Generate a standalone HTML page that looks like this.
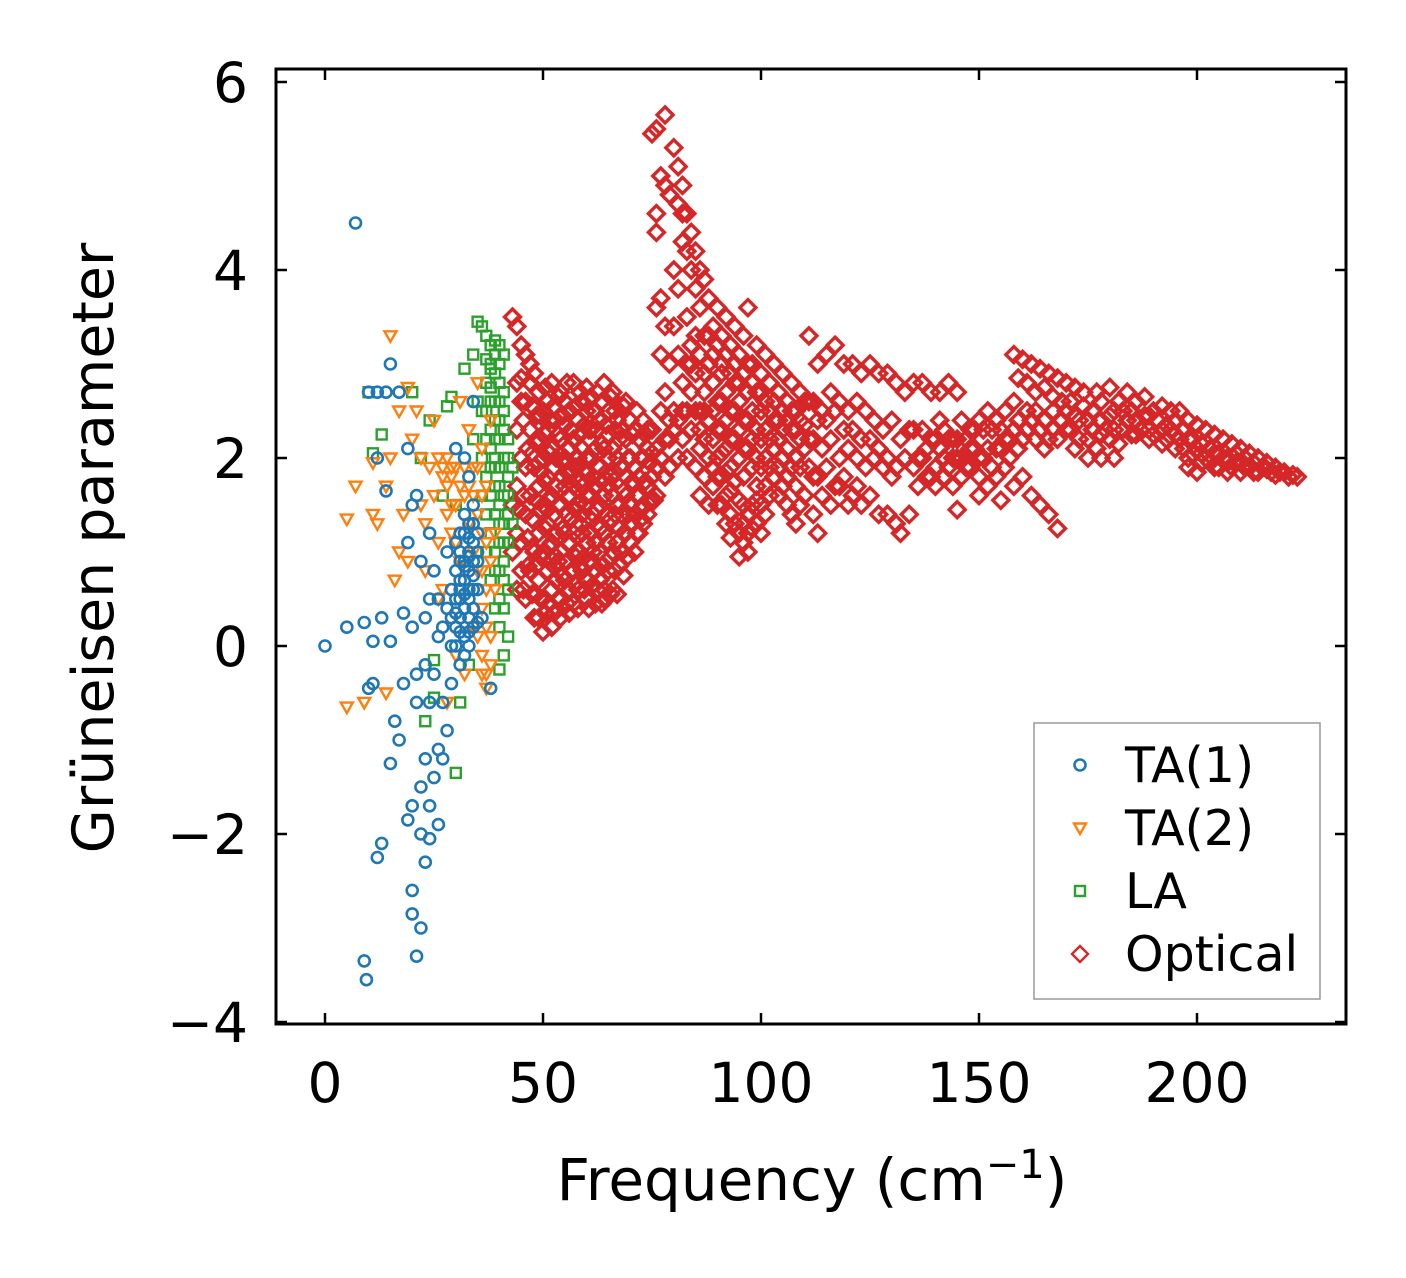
<!DOCTYPE html>
<html><head><meta charset="utf-8">
<style>
html,body{margin:0;padding:0;background:#fff;}
svg text{font-family:"DejaVu Sans","Liberation Sans",sans-serif;}
</style></head>
<body>
<svg id="chart" width="1406" height="1273" viewBox="0 0 1406 1273" xmlns="http://www.w3.org/2000/svg">
<rect x="0" y="0" width="1406" height="1273" fill="#fff"/>
<g id="marks"></g>
<g id="axes"></g>
</svg>
<script>
const xTicks=[0,50,100,150,200];
const yTicks=[-4,-2,0,2,4,6];
const yTickLabels=["\u22124","\u22122","0","2","4","6"];
const ta1=[[0,0],[5,0.2],[7,4.5],[9,0.25],[9,-3.35],[9.5,-3.55],[10,2.7],[10,-0.45],[11,0.05],[11,-0.4],[12,-2.25],[12,2.7],[13,-2.1],[13,0.3],[14,2.7],[14,1.65],[15,3.0],[15,-1.25],[15,0.05],[16,-0.8],[17,-1.0],[17,2.7],[18,0.35],[18,-0.4],[19,1.1],[19,-1.85],[20,-1.7],[20,-2.85],[20,-2.6],[20,0.2],[21,-3.3],[21,1.6],[21,-0.6],[22,-3.0],[22,-1.5],[22,-2.0],[23,-2.3],[23,-1.2],[24,-1.7],[24,-2.05],[25,-1.4],[26,-1.1],[26,-1.9],[27,-1.2],[27,-0.6],[28,-0.9],[24,0.5],[25,0.8],[23,-0.2],[26,0.1],[27,0.2],[28,0.4],[29,0.6],[30,0.8],[31,1.0],[32,1.2],[33,1.0],[30,0.2],[31,0.5],[32,0.7],[33,0.3],[34,0.6],[34,1.5],[33,1.8],[35,0.9],[36,0.3],[32,2.0],[30,2.1],[34,2.6],[28,1.0],[29,-0.4],[31,-0.2],[24,1.2],[22,0.9],[20,1.5],[19,2.1],[26,0.5],[35,1.2],[33,0.5],[32,0.1],[31,0.3],[30,0.5],[29,0.0],[24,-0.6],[38,-0.45],[12,2.0],[21,-0.3],[23,0.3],[25,-0.3],[31,0.7],[32,0.4],[33,0.8],[34,0.9],[32,0.9],[31,1.2],[33,1.3],[34,0.2],[30,0.0],[29,0.3],[35,0.6],[32,-0.1],[33,0.0],[34,1.1],[31,0.9],[30,1.1],[33,0.6],[32,0.55],[31,0.15],[33,0.15],[34,0.4],[35,0.25],[33,1.15],[32,1.4],[34,1.3],[31,0.6],[30,0.35],[35,1.0],[32,0.85],[33,0.95],[34,0.75]];
const ta2=[[5,-0.65],[5,1.35],[7,1.7],[9,-0.6],[11,1.95],[11,1.4],[12,1.3],[14,-0.5],[14,1.7],[15,3.3],[15,2.0],[16,0.7],[17,2.5],[17,1.0],[18,1.4],[19,2.75],[19,0.9],[20,2.2],[21,2.5],[22,1.5],[22,2.0],[23,1.3],[23,0.8],[24,1.9],[25,1.6],[25,2.4],[26,2.0],[26,1.1],[27,1.8],[27,0.6],[28,2.0],[28,1.4],[29,1.5],[30,1.9],[30,1.1],[31,0.9],[32,1.6],[33,1.3],[33,2.3],[34,1.9],[35,0.8],[35,1.4],[36,0.4],[36,-0.1],[37,-0.3],[37,1.7],[38,0.1],[38,-0.2],[39,0.6],[39,1.2],[34,0.2],[32,-0.3],[30,-0.1],[28,-0.6],[26,0.5],[37,1.1],[36,2.1],[38,2.4],[35,2.8],[31,2.6],[29,1.8],[31,1.7],[33,1.7],[35,1.9],[36,1.2],[37,0.6],[38,0.9],[36,0.8],[34,1.0],[29,1.9],[27,1.9],[30,1.5],[32,1.9],[34,1.6],[36,1.6],[37,0.2],[35,0.1],[36,-0.3],[37,-0.45],[29,1.2],[28,1.7]];
const la=[[10,2.7],[11,2.05],[13,2.25],[20,2.7],[22,2.0],[23,-0.8],[24,2.4],[25,-0.55],[25,-0.15],[27,1.6],[28,2.55],[29,2.65],[30,-1.35],[30,1.5],[31,-0.6],[32,2.95],[33,-0.2],[34,3.1],[35,3.45],[36,3.4],[37,3.3],[38,3.2],[39,3.1],[40,3.0],[37,2.8],[38,2.6],[39,2.4],[40,2.2],[41,2.0],[42,1.8],[36,2.5],[37,2.2],[38,1.9],[39,1.7],[40,1.5],[41,1.3],[42,1.1],[36,1.6],[37,1.0],[38,0.7],[39,0.4],[40,0.2],[41,-0.1],[40,-0.25],[42,0.6],[42,0.1],[41,0.9],[40,1.9],[39,2.9],[38,2.3],[36,2.0],[35,2.6],[34,2.2],[37,1.4],[39,1.0],[43,1.3],[43,1.9],[41,2.7],[40,2.6],[38,2.95],[39,2.0],[39,1.4],[40,1.1],[40,0.8],[41,1.6],[41,2.3],[40,2.8],[39,2.6],[38,1.2],[38,1.6],[37,1.8],[37,2.5],[38,3.0],[39,0.8],[40,0.5],[41,0.4],[42,1.4],[42,2.0],[40,3.2],[41,3.1],[40,2.4],[41,2.5],[40,1.7],[41,1.1],[42,1.6],[42,2.2],[41,0.7],[40,1.3],[39,2.2],[39,1.9],[38,2.1],[38,2.75],[39,3.25],[37,3.05]];
const optical=[[43,3.5],[44,3.4],[45,3.2],[46,3.1],[44,2.8],[46,2.6],[47,2.3],[45,2.0],[44,1.7],[46,1.4],[45,1.1],[47,0.8],[46,0.5],[48,0.3],[48,2.9],[48,1.9],[48,1.0],[43,1.5],[43,1.0],[44,0.6],[44,2.3],[45,2.6],[47,1.6],[47,2.8],[45,0.8],[46,1.9],[44,1.2],
[49,2.7],[50,2.5],[51,2.6],[52,2.8],[53,2.4],[54,2.7],[55,2.6],[56,2.5],[57,2.8],[58,2.4],[59,2.6],[60,2.5],[61,2.3],[62,2.5],[63,2.4],[64,2.8],[65,2.5],[66,2.7],
[49,2.2],[50,2.0],[51,2.3],[52,2.1],[53,2.0],[54,2.2],[55,2.0],[56,2.1],[57,2.2],[58,2.0],[59,2.1],[60,2.0],[61,2.0],[62,2.1],[63,1.9],[64,2.1],[65,2.0],[66,2.1],
[49,1.7],[50,1.5],[51,1.8],[52,1.6],[53,1.7],[54,1.5],[55,1.7],[56,1.6],[57,1.7],[58,1.5],[59,1.7],[60,1.6],[61,1.6],[62,1.7],[63,1.5],[64,1.6],[65,1.7],[66,1.6],
[49,1.2],[50,1.0],[51,1.3],[52,1.1],[53,1.2],[54,1.0],[55,1.2],[56,1.1],[57,1.2],[58,1.0],[59,1.2],[60,1.1],[61,1.2],[62,1.1],[63,1.0],[64,1.2],[65,1.1],[66,1.0],
[49,0.7],[50,0.5],[51,0.8],[52,0.6],[53,0.7],[54,0.5],[55,0.7],[56,0.6],[57,0.8],[58,0.6],[59,0.8],[60,0.7],[61,0.9],[62,0.8],[63,0.7],[64,0.6],[65,0.8],[66,0.6],
[49,0.3],[50,0.15],[52,0.2],[54,0.3],[56,0.35],[58,0.4],[60,0.5],[62,0.45],[64,0.5],[67,0.55],[49,1.95],[51,1.45],[53,0.95],[55,2.35],[57,0.45],[59,1.4],[61,2.65],[63,1.25],[65,2.25],[60,2.75],
[67,2.4],[68,2.3],[69,2.2],[70,2.4],[71,2.3],[72,2.2],[73,2.4],[74,2.3],[67,2.0],[68,1.9],[69,1.8],[70,2.0],[71,1.9],[72,1.8],[73,2.0],[74,2.1],[75,2.3],
[67,1.5],[68,1.4],[69,1.6],[70,1.5],[71,1.4],[72,1.6],[73,1.5],[74,1.7],[75,1.8],[67,1.1],[68,1.0],[69,1.2],[70,1.1],[71,1.0],[72,1.2],[73,1.3],[74,1.4],[76,1.6],
[76,2.1],[77,2.5],[78,2.2],[79,1.9],[80,2.3],[81,2.0],[82,2.2],[76,1.9],
[75,5.45],[76,5.5],[78,5.65],[80,5.3],[81,5.1],[82,4.9],[83,4.6],[84,4.4],[85,4.2],[86,4.0],[87,3.9],[88,3.7],[77,5.0],[78,4.9],[79,4.8],[76,4.6],[76,4.4],[80,4.0],[81,3.8],[82,4.3],[83,4.2],[82,4.6],[81,4.7],[84,4.0],[85,3.8],[77,3.7],[78,3.4],[79,3.0],[77,3.1],[78,2.7],[80,2.5],[79,2.2],[76,3.6],[80,3.4],[81,3.1],[82,2.8],[83,3.5],[84,3.2],[85,2.9],[86,3.6],[87,3.3],[88,3.0],[83,2.5],[84,2.7],
[89,3.4],[90,3.6],[91,3.3],[92,3.5],[93,3.2],[94,3.4],[95,3.1],[96,3.3],[97,3.6],[98,3.0],[99,3.2],[100,2.9],[101,3.1],[102,2.8],[103,3.0],[104,2.7],[105,2.9],[106,2.6],[107,2.8],[108,2.5],[109,2.7],[110,2.6],
[89,2.8],[90,2.6],[91,2.9],[92,2.7],[93,2.5],[94,2.8],[95,2.6],[96,2.4],[97,2.7],[98,2.5],[99,2.3],[100,2.5],[101,2.3],[102,2.2],[103,2.4],[104,2.2],[105,2.3],[106,2.1],[107,2.3],[108,2.0],[109,2.2],[110,2.1],
[89,2.2],[90,2.0],[91,2.3],[92,2.1],[93,1.9],[94,2.2],[95,2.0],[96,1.8],[97,2.1],[98,1.9],[99,1.7],[100,1.9],[101,1.7],[102,1.6],[103,1.8],[104,1.6],[105,1.7],[106,1.5],[107,1.4],[108,1.3],
[89,1.7],[90,1.5],[91,1.8],[92,1.6],[93,1.4],[94,1.3],[95,1.2],[96,1.1],[97,1.0],[98,1.5],[99,1.3],[100,1.2],[85,1.9],[86,1.6],[87,2.2],[88,1.5],[86,2.5],[87,2.7],[88,2.4],
[111,3.3],[113,3.0],[115,3.1],[117,3.2],[119,3.0],[121,3.0],[123,2.9],[125,3.0],[127,2.9],[129,2.9],[131,2.8],[133,2.7],[135,2.8],[137,2.8],[139,2.7],[141,2.7],[143,2.8],[145,2.7],
[112,2.6],[114,2.5],[116,2.7],[118,2.6],[120,2.5],[122,2.6],[124,2.5],[126,2.4],[128,2.3],[130,2.4],[132,2.2],[134,2.3],
[111,1.9],[113,1.8],[115,1.9],[117,1.7],[119,1.8],[121,1.6],[123,1.5],[125,1.6],[127,1.4],[129,1.4],[131,1.3],[132,1.2],[134,1.4],
[112,2.2],[114,2.1],[116,2.2],[118,2.0],[120,2.1],[122,2.0],[124,1.9],[126,2.0],[128,1.9],[130,1.8],[110,1.6],[112,1.4],[113,1.2],[109,1.5],
[135,1.9],[137,2.0],[139,1.8],[141,2.1],[143,1.9],[145,2.0],[147,2.2],[149,2.1],[151,2.0],[153,2.3],[155,2.1],[157,2.2],[159,2.4],[161,2.3],[163,2.2],[165,2.4],[167,2.3],[169,2.4],
[136,1.7],[138,1.8],[140,1.7],[142,1.8],[144,1.7],[146,1.8],[148,1.9],[150,1.8],[152,1.7],[154,1.8],[156,1.9],[158,1.7],[160,1.8],[162,1.6],[164,1.5],[166,1.4],[168,1.25],
[140,2.2],[142,2.3],[144,2.2],[146,2.4],[148,2.3],[150,2.4],[152,2.5],[154,2.4],[156,2.5],[158,2.6],[145,1.45],[150,1.6],[155,1.55],
[158,3.1],[160,3.05],[162,3.0],[164,2.95],[166,2.9],[168,2.85],[170,2.8],[172,2.75],[174,2.7],[159,2.85],[161,2.8],[163,2.7],[165,2.75],[167,2.65],
[170,2.5],[171,2.3],[172,2.1],[173,2.4],[175,2.2],[176,2.5],[177,2.7],[178,2.6],[180,2.75],[181,2.5],[182,2.6],[184,2.7],[185,2.5],[186,2.6],[188,2.65],[189,2.45],[190,2.5],[192,2.55],[193,2.35],[194,2.5],[195,2.4],[196,2.5],[197,2.3],[198,2.4],[199,2.2],[200,2.35],[201,2.15],[202,2.3],[203,2.1],[204,2.25],[205,2.05],[206,2.2],[207,2.0],[208,2.15],[209,1.95],[210,2.1],[211,1.9],[212,2.05],[213,1.95],[214,2.0],[215,1.9],[216,1.95],[217,1.85],[218,1.9],[219,1.85],[220,1.85],[221,1.8],[222,1.82],[223,1.8],
[178,2.25],[180,2.2],[183,2.3],[186,2.25],[189,2.2],[192,2.15],[195,2.1],[198,2.0],[201,1.95],[204,1.9],[207,1.85],[210,1.85],[213,1.85],[198,1.9],[200,1.85],[175,2.0],[178,2.0],[181,2.0],
[47.5,2.55],[48.5,2.45],[49.5,2.45],[50.5,2.75],[51.5,2.4],[52.5,2.55],[53.5,2.65],[54.5,2.45],[55.5,2.8],[56.5,2.3],[57.5,2.55],[58.5,2.7],[59.5,2.35],[60.5,2.3],[61.5,2.5],[62.5,2.7],[63.5,2.6],[64.5,2.35],[65.5,2.65],[66.5,2.3],
[47.5,2.05],[48.5,2.15],[49.5,1.85],[50.5,2.25],[51.5,2.05],[52.5,1.9],[53.5,2.25],[54.5,1.95],[55.5,1.85],[56.5,2.3],[57.5,1.9],[58.5,2.25],[59.5,1.85],[60.5,2.2],[61.5,1.8],[62.5,2.3],[63.5,2.15],[64.5,1.85],[65.5,1.8],[66.5,1.85],
[47.5,1.35],[48.5,1.55],[49.5,1.45],[50.5,1.75],[51.5,1.55],[52.5,1.4],[53.5,1.5],[54.5,1.8],[55.5,1.4],[56.5,1.85],[57.5,1.45],[58.5,1.75],[59.5,1.5],[60.5,1.85],[61.5,1.4],[62.5,1.45],[63.5,1.75],[64.5,1.4],[65.5,1.35],[66.5,1.4],
[47.5,1.05],[48.5,0.85],[49.5,0.95],[50.5,1.25],[51.5,1.05],[52.5,0.85],[53.5,0.9],[54.5,1.25],[55.5,0.9],[56.5,1.35],[57.5,0.95],[58.5,1.3],[59.5,0.95],[60.5,0.9],[61.5,1.0],[62.5,1.3],[63.5,0.85],[64.5,0.9],[65.5,0.95],[66.5,0.8],
[48.5,0.55],[49.5,0.5],[50.5,0.35],[51.5,0.45],[52.5,0.35],[53.5,0.5],[54.5,0.75],[55.5,0.45],[56.5,0.8],[57.5,0.65],[58.5,0.85],[59.5,0.6],[60.5,0.4],[61.5,0.65],[62.5,0.6],[63.5,0.45],[65.5,0.55],
[45.5,2.4],[46.5,2.1],[45.5,1.6],[46.5,1.15],[45.5,0.6],[47.5,0.55],[44.5,1.45],[46.5,0.85],[47,3.0],[45,2.85],
[67.5,2.2],[68.5,2.55],[69.5,2.0],[70.5,2.25],[71.5,2.5],[72.5,2.0],[73.5,2.25],[74.5,1.95],[67.5,1.7],[68.5,1.65],[69.5,1.4],[70.5,1.75],[71.5,1.6],[72.5,1.35],[73.5,1.75],[74.5,1.55],[67.5,1.25],[68.5,1.2],[69.5,0.95],[70.5,1.3],[71.5,1.2],[72.5,1.45],[67.5,0.85],[68.5,0.75],[66.5,2.5],[69,2.6],[75,2.05],[75.5,1.55],
[77,2.0],[78,1.8],[79,2.4],[81,2.4],[82,2.5],[83,2.0],[84,2.3],[85,2.5],[86,2.1],[87,1.8],[88,2.0],[85,3.3],[86,3.1],[87,2.9],[88,3.3],[84,3.0],[83,3.0],[86,2.3],[87,2.5],[89,3.1],[89,2.5],[89,1.9],
[90,3.2],[91,3.0],[92,3.1],[93,2.9],[94,3.0],[95,2.8],[96,2.9],[97,3.0],[98,2.8],[99,2.7],[100,2.7],[101,2.6],[102,2.5],[103,2.6],[104,2.4],[105,2.5],[106,2.4],[107,2.5],[108,2.3],[109,2.4],
[90,2.3],[91,2.6],[92,2.4],[93,2.2],[94,2.5],[95,2.3],[96,2.1],[97,2.4],[98,2.2],[99,2.0],[100,2.2],[101,2.0],[102,1.9],[103,2.1],[104,1.9],[105,2.0],[106,1.8],[107,1.9],[108,1.7],[109,1.9],
[90,1.8],[91,2.05],[92,1.85],[93,1.65],[94,1.75],[95,1.55],[96,1.5],[97,1.4],[98,1.25],[99,1.55],[100,1.5],[101,1.4],[91,1.5],[92,1.3],[93,1.15],[96,1.3],[97,1.2],[95,0.95],
[110,2.35],[111,2.2],[111,2.6],[112,1.8],[113,2.4],[114,1.6],[115,2.4],[116,1.5],[117,2.5],[118,1.7],[119,2.3],[120,1.5],[121,2.3],[122,1.7],[123,2.2],[125,2.2],[127,2.1],[129,2.0],[131,1.9],[133,2.0],[135,2.3],
[136,2.0],[137,2.3],[138,2.1],[139,2.2],[140,1.9],[141,2.4],[142,2.0],[143,2.2],[144,2.0],[145,2.2],[146,2.0],[147,1.9],[148,2.1],[149,2.3],[150,2.0],[151,2.3],[152,2.1],[153,1.9],[154,2.1],[155,2.3],[156,2.2],[157,2.0],[158,2.3],[159,2.1],[160,2.2],[161,2.5],[162,2.4],[163,2.5],[164,2.3],[165,2.1],[166,2.2],[167,2.5],[168,2.2],[169,2.6],[170,2.3],
[171,2.6],[172,2.45],[173,2.2],[174,2.55],[175,2.4],[176,2.3],[177,2.1],[178,2.4],[179,2.3],[180,2.45],[181,2.3],[182,2.15],[183,2.5],[184,2.4],[185,2.25],[186,2.4],[187,2.3],[188,2.45],[189,2.3],[190,2.25],[191,2.4],[192,2.3],[193,2.2],[194,2.3],[195,2.25],[196,2.2],[197,2.1],[198,2.2],[199,2.05],[200,2.1],[201,2.05],[202,2.0],[203,1.95],[204,2.05],[205,1.9],[206,2.0],[207,1.95],[208,1.9],[209,2.05],[210,1.95],[211,2.0],[212,1.9],[214,1.85],[216,1.88],[218,1.82]];

const L=276,R=1346,T=69,B=1024;
function sx(v){return 325+(v)*4.36;}
function sy(v){return 646-v*94;}
const NS="http://www.w3.org/2000/svg";
const marks=document.getElementById('marks');
const axes=document.getElementById('axes');
function mk(tag,attrs,parent){const e=document.createElementNS(NS,tag);for(const k in attrs)e.setAttribute(k,attrs[k]);parent.appendChild(e);return e;}
function marker(type,x,y,color,parent,sw){
  let e;
  if(type==='circle'){e=mk('circle',{cx:x,cy:y,r:5.5,fill:'none',stroke:color,'stroke-width':2.6},parent);}
  else if(type==='tri'){e=mk('polygon',{points:`${x-6},${y-4.5} ${x+6},${y-4.5} ${x},${y+6}`,fill:'none',stroke:color,'stroke-width':2.4},parent);}
  else if(type==='square'){e=mk('rect',{x:x-5,y:y-5,width:10,height:10,fill:'none',stroke:color,'stroke-width':2.4},parent);}
  else {e=mk('polygon',{points:`${x},${y-8} ${x+8},${y} ${x},${y+8} ${x-8},${y}`,fill:'none',stroke:color,'stroke-width':sw||3.4},parent);}
  return e;
}
const series=[{d:optical,t:'diamond',c:'#d62728',n:'optical-point'},{d:la,t:'square',c:'#2ca02c',n:'la-point'},{d:ta2,t:'tri',c:'#ff7f0e',n:'ta2-point'},{d:ta1,t:'circle',c:'#1f77b4',n:'ta1-point'}];
series.forEach(s=>{
  const g=mk('g',{},marks);
  
  
  s.d.forEach(p=>{
    const e=marker(s.t,sx(p[0]),sy(p[1]),s.c,g);
    
    
  });
});
const fr=mk('rect',{x:L,y:T,width:R-L,height:B-T,fill:'none',stroke:'#000','stroke-width':3},axes);


xTicks.forEach(v=>{
  const x=sx(v);
  mk('line',{x1:x,y1:B,x2:x,y2:B-11,stroke:'#000','stroke-width':2.5},axes);
  mk('line',{x1:x,y1:T,x2:x,y2:T+11,stroke:'#000','stroke-width':2.5},axes);
  const t=mk('text',{x:x,y:B+78,'font-size':55,'text-anchor':'middle',fill:'#000'},axes);
  t.textContent=String(v);
  
  
});
yTicks.forEach((v,i)=>{
  const y=sy(v);
  mk('line',{x1:L,y1:y,x2:L+11,y2:y,stroke:'#000','stroke-width':2.5},axes);
  mk('line',{x1:R,y1:y,x2:R-11,y2:y,stroke:'#000','stroke-width':2.5},axes);
  const t=mk('text',{x:L-28,y:y+20,'font-size':55,'text-anchor':'end',fill:'#000'},axes);
  t.textContent=yTickLabels[i];
  
  
});
const xl=mk('text',{x:812,y:1200,'font-size':58,'text-anchor':'middle',fill:'#000'},axes);
xl.innerHTML='Frequency (cm<tspan dy="-22" font-size="40">\u22121</tspan><tspan dy="22">)</tspan>';


const yl=mk('text',{x:0,y:0,'font-size':57,'text-anchor':'middle',fill:'#000',transform:'translate(113,548) rotate(-90)'},axes);
yl.textContent='Grüneisen parameter';


const lg=mk('g',{},axes);


mk('rect',{x:1034,y:723,width:286,height:276,fill:'#fff',stroke:'#999','stroke-width':1.5},lg);
const legItems=[['TA(1)','circle','#1f77b4'],['TA(2)','tri','#ff7f0e'],['LA','square','#2ca02c'],['Optical','diamond','#d62728']];
legItems.forEach((it,i)=>{
  const y=765+i*63;
  const m=marker(it[1],1080,y,it[2],lg,2.4);
  
  
  const t=mk('text',{x:1125,y:y+17,'font-size':49,fill:'#000'},lg);
  t.textContent=it[0];
  
  
});
</script>
</body></html>
